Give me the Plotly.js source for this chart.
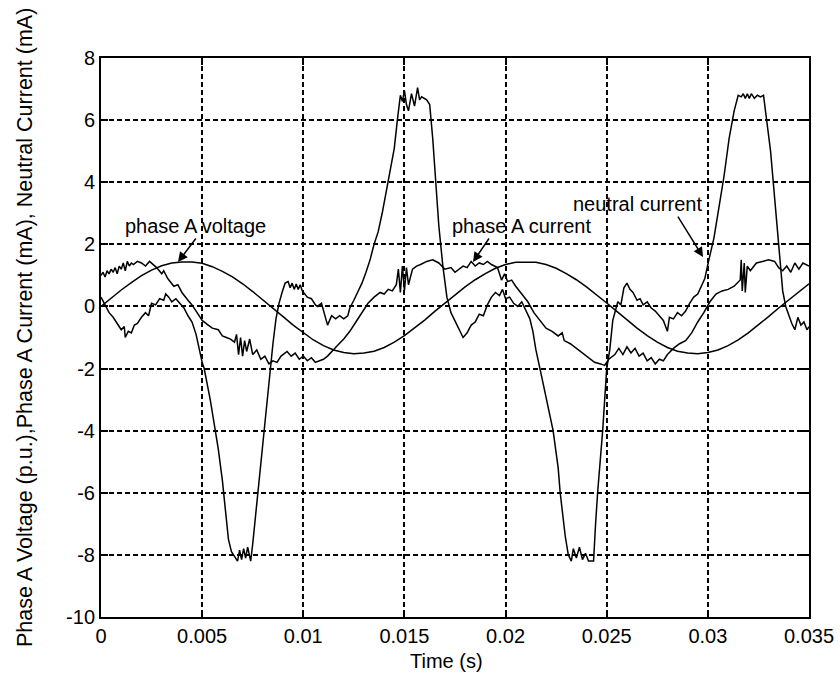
<!DOCTYPE html>
<html>
<head>
<meta charset="utf-8">
<script src="https://cdn.plot.ly/plotly-3.0.1.min.js"></script>
<style>html,body{margin:0;padding:0;background:#fff;}#chart{width:840px;height:677px;}</style>
</head>
<body>
<div id="chart"></div>
<script>
// ---- data (time in ms) ----
const voltT = [0,0.5,1,1.5,2,2.5,3,3.5,4,4.5,5,5.5,6,6.5,7,7.5,8,8.5,9,9.5,10,10.5,11,11.5,12,12.5,13,13.5,14,14.5,15,15.5,16,16.5,17,17.5,18,18.5,19,19.5,20,20.5,21,21.5,22,22.5,23,23.5,24,24.5,25,25.5,26,26.5,27,27.5,28,28.5,29,29.5,30,30.5,31,31.5,32,32.5,33,33.5,34,34.5,35];
const voltV = [0,0.27,0.53,0.77,0.99,1.17,1.31,1.40,1.43,1.43,1.39,1.28,1.13,0.95,0.73,0.48,0.22,-0.05,-0.33,-0.60,-0.85,-1.08,-1.26,-1.40,-1.48,-1.52,-1.50,-1.44,-1.32,-1.15,-0.94,-0.70,-0.44,-0.16,0.11,0.38,0.63,0.86,1.06,1.23,1.35,1.42,1.43,1.42,1.35,1.23,1.06,0.86,0.63,0.38,0.11,-0.16,-0.44,-0.70,-0.94,-1.15,-1.32,-1.44,-1.50,-1.52,-1.48,-1.40,-1.26,-1.08,-0.85,-0.60,-0.33,-0.05,0.22,0.48,0.73];

const iaT = [0,0.1,0.2,0.3,0.4,0.5,0.6,0.7,0.8,0.9,1.0,1.1,1.2,1.3,1.4,1.5,1.6,1.7,1.8,2.0,2.2,2.4,2.6,2.75,3.0,3.1,3.3,3.6,3.8,4.0,4.3,4.5,4.8,5.0,5.3,5.5,5.8,6.0,6.2,6.4,6.6,6.7,6.8,6.9,7.0,7.1,7.2,7.35,7.5,7.7,7.9,8.1,8.3,8.5,8.7,8.9,9.2,9.4,9.6,9.8,10.0,10.2,10.4,10.6,10.8,11.0,11.2,11.4,11.7,12.0,12.3,12.6,12.9,13.2,13.5,13.8,14.0,14.2,14.4,14.6,14.7,14.8,14.9,15.0,15.1,15.2,15.4,15.6,15.8,16.1,16.4,16.7,17.0,17.3,17.5,17.7,17.9,18.1,18.3,18.5,18.7,18.9,19.1,19.3,19.6,19.8,19.95,20.1,20.3,20.5,20.8,21.1,21.4,21.7,22.0,22.3,22.6,22.8,22.9,23.2,23.5,23.8,24.1,24.4,24.7,24.9,25.1,25.4,25.6,25.8,26.0,26.2,26.4,26.6,26.8,27.0,27.2,27.4,27.6,27.8,28.0,28.3,28.6,28.9,29.2,29.5,29.8,30.1,30.4,30.7,31.0,31.3,31.6,31.65,31.7,31.8,31.85,31.95,32.1,32.4,32.7,33.0,33.3,33.5,33.7,33.9,34.1,34.3,34.5,34.7,35.0];
const iaV = [1.00,1.10,0.95,1.15,1.05,1.20,1.10,1.25,1.05,1.30,1.20,1.40,1.15,1.45,1.30,1.40,1.35,1.40,1.45,1.40,1.30,1.45,1.35,1.25,1.05,1.15,0.90,0.65,0.70,0.45,0.20,0.05,-0.25,-0.45,-0.60,-0.70,-0.75,-0.95,-1.00,-1.05,-1.15,-0.90,-1.55,-1.00,-1.60,-1.10,-1.45,-1.05,-1.55,-1.40,-1.70,-1.60,-1.85,-1.75,-1.80,-1.60,-1.45,-1.60,-1.50,-1.70,-1.60,-1.75,-1.65,-1.80,-1.75,-1.70,-1.60,-1.45,-1.25,-1.05,-0.80,-0.50,-0.20,0.10,0.30,0.45,0.40,0.55,0.50,0.70,1.20,0.45,1.30,0.50,1.25,0.70,1.20,1.30,1.35,1.45,1.50,1.40,1.20,1.25,1.10,1.20,1.30,1.25,1.45,1.30,1.40,1.35,1.45,1.35,1.25,0.85,1.05,0.80,0.85,0.65,0.40,0.15,-0.20,-0.45,-0.70,-0.80,-0.95,-0.85,-1.10,-1.20,-1.35,-1.50,-1.65,-1.80,-1.85,-1.90,-1.70,-1.55,-1.35,-1.55,-1.30,-1.50,-1.35,-1.60,-1.50,-1.75,-1.65,-1.85,-1.70,-1.75,-1.55,-1.35,-1.20,-1.10,-0.85,-0.50,-0.20,0.15,0.40,0.50,0.55,0.65,0.85,1.50,0.50,1.40,0.45,1.30,1.15,1.40,1.45,1.50,1.45,1.25,1.15,1.30,1.10,1.40,1.20,1.40,1.30];

const inT = [0,0.2,0.4,0.6,0.8,1.0,1.15,1.2,1.35,1.5,1.65,1.8,2.0,2.2,2.35,2.5,2.7,2.9,3.1,3.2,3.35,3.5,3.7,3.85,4.1,4.3,4.5,4.7,4.85,5.0,5.1,5.4,5.6,5.8,6.0,6.1,6.2,6.3,6.45,6.6,6.75,6.85,6.95,7.05,7.15,7.25,7.4,7.5,7.6,7.75,7.95,8.05,8.25,8.35,8.5,8.65,8.8,8.95,9.1,9.25,9.35,9.45,9.55,9.65,9.75,9.85,9.95,10.2,10.4,10.6,10.7,10.9,11.1,11.2,11.4,11.6,11.8,12.0,12.2,12.3,12.5,12.7,12.9,13.1,13.3,13.5,13.7,13.9,14.1,14.3,14.5,14.65,14.8,14.9,15.0,15.1,15.2,15.35,15.5,15.65,15.75,15.85,16.1,16.25,16.4,16.55,16.7,16.9,17.1,17.3,17.5,17.7,17.9,18.1,18.3,18.5,18.7,18.9,19.1,19.3,19.5,19.7,19.85,20.0,20.2,20.4,20.6,20.8,21.0,21.2,21.35,21.5,21.7,21.9,22.05,22.35,22.6,22.7,22.95,23.1,23.25,23.35,23.5,23.65,23.8,23.95,24.1,24.35,24.45,24.55,24.8,25.0,25.15,25.3,25.55,25.7,25.85,26.0,26.15,26.3,26.5,26.65,26.8,27.0,27.2,27.4,27.6,27.8,28.0,28.1,28.3,28.5,28.7,28.9,29.1,29.3,29.5,29.7,29.85,30.05,30.3,30.55,30.8,31.05,31.3,31.5,31.65,31.75,31.85,31.95,32.05,32.15,32.3,32.45,32.6,32.75,32.9,33.1,33.3,33.5,33.7,33.85,34.0,34.15,34.3,34.45,34.6,34.75,34.9,35.0];
const inV = [0.30,0.05,-0.20,-0.35,-0.55,-0.75,-0.65,-1.00,-0.80,-0.85,-0.60,-0.55,-0.35,-0.20,-0.30,0.10,0.05,0.25,0.20,0.40,0.30,0.15,0.25,0.15,-0.05,-0.30,-0.50,-0.90,-1.40,-1.80,-2.00,-3.00,-3.80,-4.60,-5.60,-6.20,-7.00,-7.50,-7.90,-8.05,-8.20,-7.85,-8.15,-7.80,-8.10,-7.75,-8.20,-7.65,-7.00,-6.00,-4.80,-4.00,-2.80,-2.00,-1.20,-0.40,0.10,0.45,0.75,0.80,0.60,0.75,0.55,0.72,0.55,0.70,0.50,0.30,0.25,0.05,0.00,0.10,-0.40,-0.60,-0.30,-0.40,-0.30,-0.40,-0.30,-0.05,0.20,0.45,0.75,1.10,1.50,2.00,2.40,3.00,3.70,4.30,5.10,6.00,6.80,6.60,6.95,6.50,6.30,6.85,6.45,7.05,6.65,6.75,6.65,6.50,5.40,4.00,2.60,1.30,0.30,-0.20,-0.45,-0.75,-1.00,-0.85,-0.60,-0.50,-0.25,-0.30,0.05,0.30,0.45,0.35,0.55,0.25,0.30,0.10,0.00,0.15,-0.10,-0.40,-0.80,-1.40,-2.00,-2.60,-3.00,-4.00,-5.20,-6.00,-7.40,-8.00,-8.20,-7.80,-8.10,-7.75,-8.15,-7.95,-8.20,-8.20,-7.00,-6.00,-4.00,-2.00,-1.40,-0.45,0.15,0.05,0.60,0.75,0.55,0.45,0.20,0.25,0.05,0.15,-0.05,-0.15,-0.30,-0.45,-0.80,-0.35,-0.40,-0.20,-0.30,-0.15,0.10,0.30,0.40,0.70,0.90,1.50,2.20,3.20,4.20,5.40,6.30,6.80,6.75,6.85,6.70,6.85,6.70,6.85,6.70,6.80,6.75,6.80,6.00,5.00,3.50,2.00,0.50,0.00,-0.30,-0.55,-0.75,-0.35,-0.60,-0.50,-0.75,-0.65];

const xTickVals = [0,0.005,0.01,0.015,0.02,0.025,0.03,0.035];
const xTickText = ['0','0.005','0.01','0.015','0.02','0.025','0.03','0.035'];
const yTickVals = [-10,-8,-6,-4,-2,0,2,4,6,8];
const yTickText = ['-10','-8','-6','-4','-2','0','2','4','6','8'];

const sec = a => a.map(v => v / 1000);
const FONT = 'Liberation Sans, Arial, sans-serif';
const line = {color: '#000', width: 1.5};

const traces = [
  {x: sec(voltT), y: voltV, mode: 'lines', line: line, name: 'phase A voltage'},
  {x: sec(iaT), y: iaV, mode: 'lines', line: line, name: 'phase A current'},
  {x: sec(inT), y: inV, mode: 'lines', line: line, name: 'neutral current'}
];

const axisCommon = {
  showline: true, linecolor: '#000', linewidth: 2, mirror: 'ticks',
  ticks: 'inside', ticklen: 7, tickcolor: '#000', tickwidth: 2,
  showgrid: true, gridcolor: '#000', gridwidth: 2, griddash: '5px,3px',
  zeroline: false, tickfont: {family: FONT, size: 20, color: '#000'}
};

const lbl = {family: FONT, size: 20, color: '#000'};
const layout = {
  width: 840, height: 677,
  margin: {l: 101, r: 31, t: 58, b: 60},
  paper_bgcolor: '#fff', plot_bgcolor: '#fff',
  showlegend: false,
  font: {family: FONT, color: '#000'},
  xaxis: Object.assign({}, axisCommon, {range: [0, 0.035], tickmode: 'array', tickvals: xTickVals, ticktext: xTickText}),
  yaxis: Object.assign({}, axisCommon, {range: [-10, 8], tickmode: 'array', tickvals: yTickVals, ticktext: yTickText}),
  annotations: [
    {text: 'phase A voltage', xref: 'x', yref: 'y', x: 0.004647, y: 2.58, showarrow: false, font: lbl},
    {text: 'phase A current', xref: 'x', yref: 'y', x: 0.02081, y: 2.59, showarrow: false, font: lbl},
    {text: 'neutral current', xref: 'x', yref: 'y', x: 0.0265, y: 3.30, showarrow: false, font: lbl},
    {text: '', xref: 'x', yref: 'y', x: 0.003806, y: 1.43, showarrow: true, ax: 19, ay: -25, arrowhead: 2, arrowsize: 1.3, arrowwidth: 1.5, arrowcolor: '#000'},
    {text: '', xref: 'x', yref: 'y', x: 0.01839, y: 1.43, showarrow: true, ax: 17, ay: -25, arrowhead: 2, arrowsize: 1.3, arrowwidth: 1.5, arrowcolor: '#000'},
    {text: '', xref: 'x', yref: 'y', x: 0.02976, y: 1.59, showarrow: true, ax: -26, ay: -42, arrowhead: 2, arrowsize: 1.3, arrowwidth: 1.5, arrowcolor: '#000'},
    {text: 'Time (s)', xref: 'paper', yref: 'paper', x: 0.5, y: 0, xshift: -9, yshift: -44, xanchor: 'center', yanchor: 'middle', showarrow: false, font: lbl},
    {text: 'Phase A Voltage (p.u.),Phase A Current (mA), Neutral Current (mA)', textangle: -90,
     xref: 'paper', yref: 'paper', x: 0, y: 0.5, xshift: -76, yshift: 9.5, xanchor: 'center', yanchor: 'middle',
     showarrow: false, font: {family: FONT, size: 21.5, color: '#000'}}
  ]
};

Plotly.newPlot('chart', traces, layout, {displayModeBar: false, staticPlot: true});
</script>
</body>
</html>
